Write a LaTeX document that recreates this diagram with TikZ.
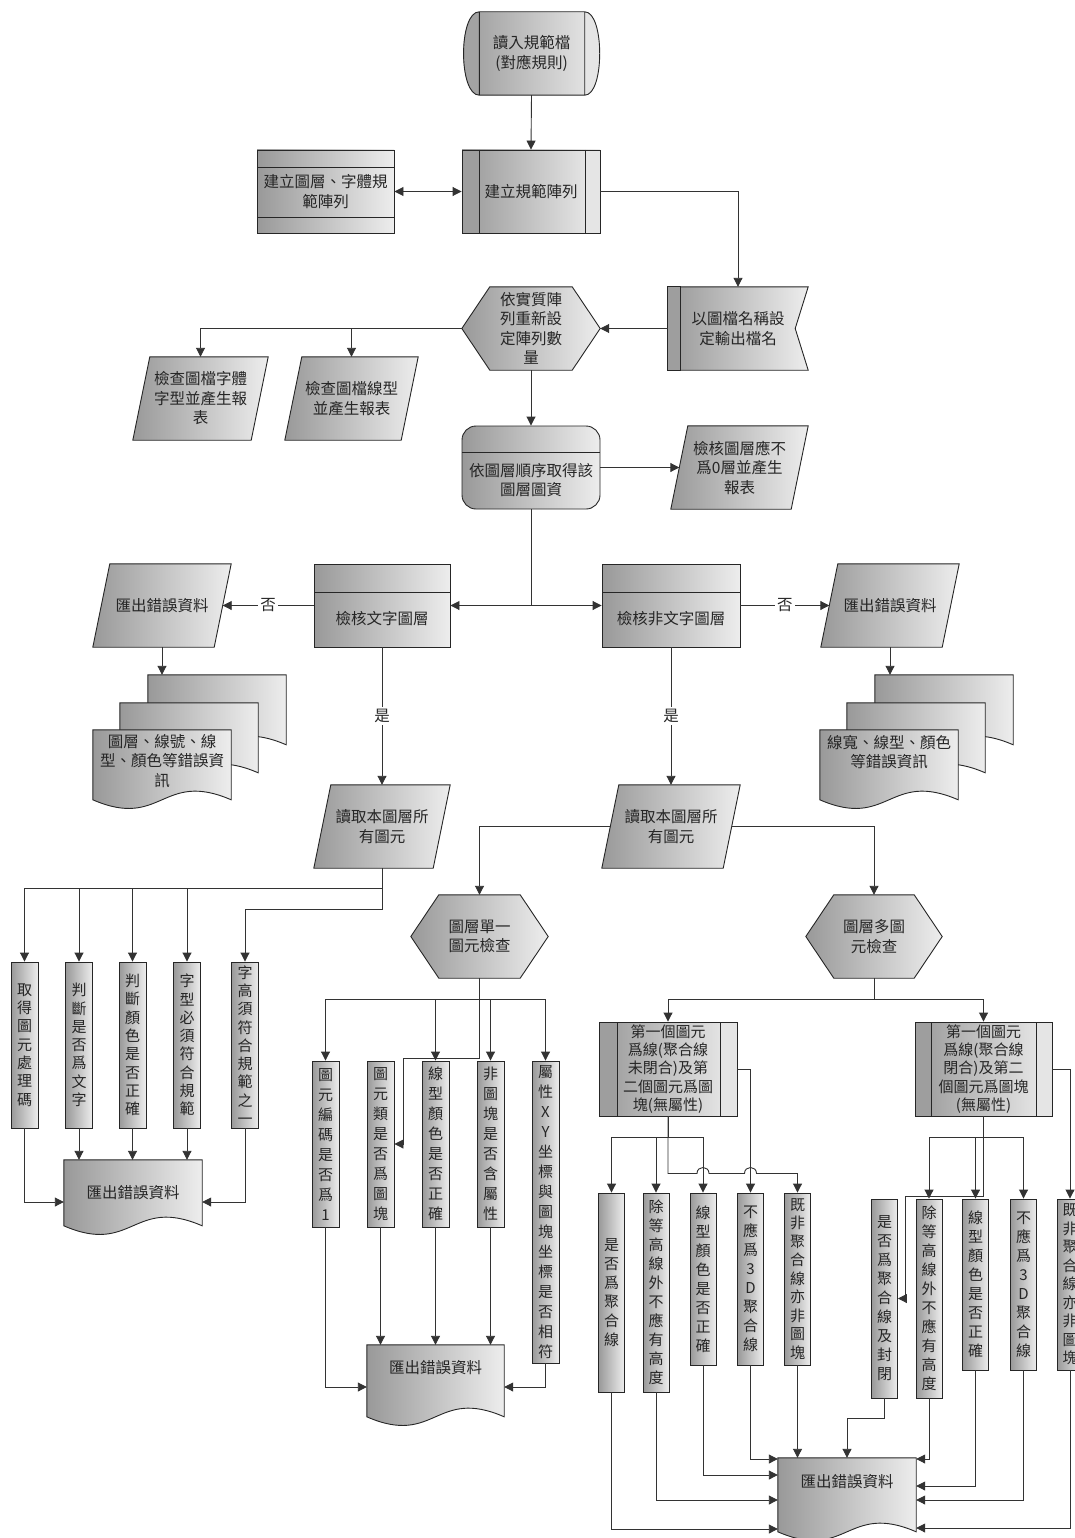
\documentclass[tikz,border=0pt]{standalone}
\usepackage{fontspec}
\newfontfamily\cjk{Noto Sans CJK TC}
\usetikzlibrary{arrows.meta,backgrounds,calc}
\pgfdeclarelayer{paper}
\pgfsetlayers{paper,background,main}

\tikzset{
  txt/.style={font=\cjk\fontsize{15.5}{19.5}\selectfont, text=black!85, align=center, inner sep=0pt},
  sz/.style 2 args={minimum width=#1pt, minimum height=#2pt},
  shd/.style={left color=black!40, right color=black!7},
  outl/.style={draw=black!85, line width=0.9pt},
  hold/.style={txt, rectangle},
  boxn/.style={txt, rectangle, shd, outl},
  vb/.style={boxn, minimum width=26pt, font=\cjk\fontsize{15}{#1}\selectfont},
  predef/.style 2 args={boxn, path picture={
    \fill[black!38] (path picture bounding box.north west) rectangle ([xshift=#1pt]path picture bounding box.south west);
    \fill[black!10] ([xshift=-#2pt]path picture bounding box.north east) rectangle (path picture bounding box.south east);
    \draw[black!85,line width=0.9pt] ([xshift=#1pt]path picture bounding box.north west) -- ([xshift=#1pt]path picture bounding box.south west)
      ([xshift=-#2pt]path picture bounding box.north east) -- ([xshift=-#2pt]path picture bounding box.south east);}},
  hla/.style={path picture={\draw[black!85,line width=0.9pt] ([yshift=-#1pt]path picture bounding box.north west) -- ([yshift=-#1pt]path picture bounding box.north east);}},
  hlb/.style 2 args={path picture={\draw[black!85,line width=0.9pt] ([yshift=-#1pt]path picture bounding box.north west) -- ([yshift=-#1pt]path picture bounding box.north east)
      ([yshift=#2pt]path picture bounding box.south west) -- ([yshift=#2pt]path picture bounding box.south east);}},
  con/.style={draw=black!80, line width=0.9pt},
  arr/.style={con, -{Triangle[length=9pt,width=9pt]}},
  lbl/.style={txt, fill=white, inner sep=2pt},
}

% flowchart symbol outlines drawn around the named nodes
\newcommand\hexshape[1]{\path[shd,outl] ([xshift=28pt]#1.north west) -- ([xshift=-28pt]#1.north east) -- (#1.east) -- ([xshift=-28pt]#1.south east) -- ([xshift=28pt]#1.south west) -- (#1.west) -- cycle;}
\newcommand\parashape[1]{\path[shd,outl] ([xshift=17pt]#1.north west) -- (#1.north east) -- ([xshift=-17pt]#1.south east) -- (#1.south west) -- cycle;}
\newcommand\docshape[4]{\path[shd,outl] ($(#1.north west)+(#3,#4)$) -- ($(#1.north east)+(#3,#4)$) -- ($(#1.north east)+(#3,#4+#2)$)
  .. controls ($(#1.north)+(#3,#4+#2-30)$) and ($(#1.north)+(#3,#4+#2+30)$) .. ($(#1.north west)+(#3,#4+#2)$) -- cycle;}

\begin{document}
\begin{tikzpicture}[x=1pt,y=-1pt]
\useasboundingbox (0,0) rectangle (1074,1538);
\begin{pgfonlayer}{paper}
  \fill[white] (0,0) rectangle (1074,1538);
\end{pgfonlayer}

% ---------- upper column ----------
\node[hold, sz={138}{83}] (term) at (531.5,53.5) {讀入規範檔\\(對應規則)};
\node[predef={17}{15}, sz={138}{83}] (build) at (531,191.5) {建立規範陣列};
\node[boxn, hlb={17}{16}, sz={137}{83}] (layers) at (325.5,191.5) {建立圖層、字體規\\範陣列};
\node[hold, sz={138}{83}] (recount) at (531,328.5) {依實質陣\\列重新設\\定陣列數\\量};
\node[hold, sz={140}{83}] (outname) at (738,328.5) {以圖檔名稱設\\定輸出檔名};
\node[hold, sz={135}{83}] (fontrep) at (200.5,398.5) {檢查圖檔字體\\字型並產生報\\表};
\node[hold, sz={133}{83}] (linerep) at (351.5,398.5) {檢查圖檔線型\\並產生報表};
\node[boxn, rounded corners=14pt, hla=26, sz={138}{83},
      label={[txt,yshift=-12.5pt]center:{依圖層順序取得該\\圖層圖資}}] (bylayer) at (531,467.5) {};
\node[hold, sz={137}{83}] (zerolayer) at (739.5,467.5) {檢核圖層應不\\爲0層並產生\\報表};

% ---------- layer checks ----------
\node[boxn, hla=28, sz={136}{83}, label={[txt,yshift=-13.5pt]center:檢核文字圖層}] (chkT) at (382,605.5) {};
\node[boxn, hla=28, sz={138}{83}, label={[txt,yshift=-13.5pt]center:檢核非文字圖層}] (chkN) at (671,605.5) {};
\node[hold, sz={138}{83}] (errL) at (162,605.5) {匯出錯誤資料};
\node[hold, sz={138}{83}] (errR) at (890,605.5) {匯出錯誤資料};
\node[hold, sz={138}{62}] (repL) at (162,761) {圖層、線號、線\\型、顏色等錯誤資\\訊};
\node[hold, sz={138}{44}] (repR) at (889,752) {線寬、線型、顏色\\等錯誤資訊};
\node[hold, sz={136}{83}] (readL) at (382,826.5) {讀取本圖層所\\有圖元};
\node[hold, sz={138}{83}] (readR) at (671,826.5) {讀取本圖層所\\有圖元};
\node[hold, sz={137}{83}] (single) at (479.5,936.5) {圖層單一\\圖元檢查};
\node[hold, sz={136}{83}] (multi) at (874,936.5) {圖層多圖\\元檢查};

% ---------- text layer checks ----------
\node[vb=18.3, sz={27}{166}] (b1) at (24.5,1045) {取\\得\\圖\\元\\處\\理\\碼};
\node[vb=18.3, sz={27}{166}] (b2) at (79,1045) {判\\斷\\是\\否\\爲\\文\\字};
\node[vb=18.3, sz={27}{166}] (b3) at (132.5,1045) {判\\斷\\顏\\色\\是\\否\\正\\確};
\node[vb=18.3, sz={27}{166}] (b4) at (187,1045) {字\\型\\必\\須\\符\\合\\規\\範};
\node[vb=18.3, sz={27}{166}] (b5) at (245,1045) {字\\高\\須\\符\\合\\規\\範\\之\\一};
\node[hold, sz={138}{66}] (docL) at (133,1193) {匯出錯誤資料};

% ---------- single element checks ----------
\node[vb=20, sz={27}{166}] (m1) at (325.5,1144) {圖\\元\\編\\碼\\是\\否\\爲\\1};
\node[vb=20, sz={27}{166}] (m2) at (380.5,1144) {圖\\元\\類\\是\\否\\爲\\圖\\塊};
\node[vb=20, sz={27}{166}] (m3) at (435.5,1144) {線\\型\\顏\\色\\是\\否\\正\\確};
\node[vb=20, sz={27}{166}] (m4) at (490.5,1144) {非\\圖\\塊\\是\\否\\含\\屬\\性};
\node[vb=20, sz={27}{302}] (m5) at (545.5,1212) {屬\\性\\X\\Y\\坐\\標\\與\\圖\\塊\\坐\\標\\是\\否\\相\\符};
\node[hold, sz={137}{46}] (docM) at (435.5,1368) {匯出錯誤資料};

% ---------- multi element checks ----------
\node[predef={18}{17}, sz={138}{94}, font=\cjk\fontsize{15}{18.2}\selectfont] (P1) at (668,1069)
  {第一個圖元\\爲線(聚合線\\未閉合)及第\\二個圖元爲圖\\塊(無屬性)};
\node[predef={16}{16}, sz={137}{94}, font=\cjk\fontsize{15}{18.2}\selectfont] (P2) at (983.5,1069)
  {第一個圖元\\爲線(聚合線\\閉合)及第二\\個圖元爲圖塊\\(無屬性)};
\node[vb=19, sz={26}{199}] (r1) at (611.5,1292.5) {是\\否\\爲\\聚\\合\\線};
\node[vb=19, sz={26}{199}] (r2) at (656,1292.5) {除\\等\\高\\線\\外\\不\\應\\有\\高\\度};
\node[vb=19, sz={26}{172}] (r3) at (703,1279) {線\\型\\顏\\色\\是\\否\\正\\確};
\node[vb=19, sz={26}{172}] (r4) at (750.5,1279) {不\\應\\爲\\3\\D\\聚\\合\\線};
\node[vb=18.5, sz={26}{172}] (r5) at (797.5,1279) {既\\非\\聚\\合\\線\\亦\\非\\圖\\塊};
\node[vb=19, sz={26}{199}] (s1) at (884.5,1298.5) {是\\否\\爲\\聚\\合\\線\\及\\封\\閉};
\node[vb=19, sz={26}{199}] (s2) at (929,1298.5) {除\\等\\高\\線\\外\\不\\應\\有\\高\\度};
\node[vb=19, sz={26}{171}] (s3) at (975.5,1284.5) {線\\型\\顏\\色\\是\\否\\正\\確};
\node[vb=19, sz={26}{171}] (s4) at (1023.5,1284.5) {不\\應\\爲\\3\\D\\聚\\合\\線};
\node[vb=18.5, sz={26}{171}] (s5) at (1070,1284.5) {既\\非\\聚\\合\\線\\亦\\非\\圖\\塊};
\node[hold, sz={138}{48}] (docB) at (847,1482) {匯出錯誤資料};

% ---------- symbol outlines ----------
\begin{pgfonlayer}{background}
  \path[shd] ([xshift=17pt]term.north west) -- ([xshift=-16pt]term.north east)
    .. controls ([xshift=4pt]term.north east) and ([xshift=4pt]term.south east) .. ([xshift=-16pt]term.south east)
    -- ([xshift=17pt]term.south west)
    .. controls ([xshift=-4pt]term.south west) and ([xshift=-4pt]term.north west) .. ([xshift=17pt]term.north west) -- cycle;
  \fill[black!36] ([xshift=17pt]term.south west) .. controls ([xshift=-4pt]term.south west) and ([xshift=-4pt]term.north west) .. ([xshift=17pt]term.north west) -- cycle;
  \fill[black!10] ([xshift=-16pt]term.north east) .. controls ([xshift=4pt]term.north east) and ([xshift=4pt]term.south east) .. ([xshift=-16pt]term.south east) -- cycle;
  \draw[outl] ([xshift=17pt]term.north west) -- ([xshift=-16pt]term.north east)
    .. controls ([xshift=4pt]term.north east) and ([xshift=4pt]term.south east) .. ([xshift=-16pt]term.south east)
    -- ([xshift=17pt]term.south west)
    .. controls ([xshift=-4pt]term.south west) and ([xshift=-4pt]term.north west) .. ([xshift=17pt]term.north west) -- cycle
    ([xshift=17pt]term.north west) -- ([xshift=17pt]term.south west)
    ([xshift=-16pt]term.north east) -- ([xshift=-16pt]term.south east);

  \hexshape{recount}
  \hexshape{single}
  \hexshape{multi}

  \path[shd,outl] (outname.north west) -- (outname.north east) -- ([xshift=-13pt]outname.east) -- (outname.south east) -- (outname.south west) -- cycle;
  \path[fill=black!38,outl] (outname.north west) rectangle ([xshift=13pt]outname.south west);

  \parashape{fontrep}
  \parashape{linerep}
  \parashape{zerolayer}
  \parashape{errL}
  \parashape{errR}
  \parashape{readL}
  \parashape{readR}

  \docshape{repL}{70}{55}{-55}
  \docshape{repL}{70}{27}{-27}
  \docshape{repL}{70}{0}{0}
  \docshape{repR}{70}{55}{-55}
  \docshape{repR}{70}{27}{-27}
  \docshape{repR}{70}{0}{0}
  \docshape{docL}{66}{0}{0}
  \docshape{docM}{72}{0}{0}
  \docshape{docB}{74}{0}{0}
\end{pgfonlayer}

% ---------- connectors ----------
\draw[arr] (term.south) -- (build.north);
\draw[con, {Triangle[length=9pt,width=9pt]}-{Triangle[length=9pt,width=9pt]}] (layers.east) -- (build.west);
\draw[arr] (build.east) -| (outname.north);
\draw[arr] (outname.west) -- (recount.east);
\draw[arr] (recount.west) -| (fontrep.north);
\draw[arr] (recount.west) -| (linerep.north);
\draw[arr] (recount.south) -- (bylayer.north);
\draw[arr] (bylayer.east) -- ([xshift=8.5pt]zerolayer.west);
\draw[arr] (bylayer.south) |- (chkT.east);
\draw[arr] (bylayer.south) |- (chkN.west);
\draw[arr] (chkT.west) -- node[lbl]{否} ([xshift=-8.5pt]errL.east);
\draw[arr] (chkN.east) -- node[lbl]{否} ([xshift=8.5pt]errR.west);
\coordinate (repLtop) at ([yshift=55pt]repL.north);
\coordinate (repRtop) at ([yshift=55pt]repR.north);
\draw[arr] (errL.south) -- (errL.south |- repLtop);
\draw[arr] (errR.south) -- (errR.south |- repRtop);
\draw[arr] (chkT.south) -- node[lbl]{是} (readL.north);
\draw[arr] (chkN.south) -- node[lbl]{是} (readR.north);

% text layer branch
\foreach \nm in {b1,b2,b3,b4} \draw[arr] (readL.south) -- ++(0,20) -| (\nm.north);
\draw[arr] (readL.south) -- ++(0,41) -| (b5.north);
\draw[arr] (b1.south) |- ([yshift=-9pt]docL.west);
\foreach \nm in {b2,b3,b4} \draw[arr] (\nm.south) -- (\nm.south |- docL.north);
\draw[arr] (b5.south) |- ([yshift=-9pt]docL.east);

% non-text layer branch
\draw[arr] ([xshift=8.5pt]readR.west) -| (single.north);
\draw[arr] ([xshift=-8.5pt]readR.east) -| (multi.north);
\foreach \nm in {m1,m3,m4,m5} \draw[arr] (single.south) -- ++(0,21) -| (\nm.north);
\draw[arr] (single.south) -- ++(0,80) -- ++(-76.5,0) |- (m2.east);
\foreach \nm in {m2,m3,m4} \draw[arr] (\nm.south) -- (\nm.south |- docM.north);
\draw[arr] (m1.south) |- ([yshift=-19pt]docM.west);
\draw[arr] (m5.south) |- ([yshift=-19pt]docM.east);

\draw[arr] (multi.south) -- ++(0,21) -| (P1.north);
\draw[arr] (multi.south) -- ++(0,21) -| (P2.north);
\foreach \nm in {r1,r2,r3} \draw[arr] (P1.south) -- ++(0,21) -| (\nm.north);
\draw[arr] (P1.east) -| (r4.north);
\draw[arr] (P1.south) -- ++(0,57) -- ++(29,0) .. controls +(0,-8) and +(0,-8) .. ++(12,0)
  -- ++(35.5,0) .. controls +(0,-8) and +(0,-8) .. ++(12,0) -| (r5.north);
\foreach \nm in {s2,s3,s4} \draw[arr] (P2.south) -- ++(0,21) -| (\nm.north);
\draw[arr] (P2.east) -| (s5.north);
\draw[arr] (P2.south) -- ++(0,80) -- ++(-78,0) |- (s1.east);

\draw[arr] (r1.south) |- ([yshift=-47pt]docB.west);
\draw[arr] (r2.south) |- ([yshift=-18pt]docB.west);
\draw[arr] (r3.south) |- ([yshift=7pt]docB.west);
\draw[arr] (r4.south) |- ([yshift=23pt]docB.west);
\draw[arr] (r5.south) -- (r5.south |- docB.north);
\draw[arr] (s1.south) -- ++(0,20) -| (docB.north);
\draw[arr] (s2.south) |- ([yshift=23pt]docB.east);
\draw[arr] (s3.south) |- ([yshift=-4pt]docB.east);
\draw[arr] (s4.south) |- ([yshift=-18pt]docB.east);
\draw[arr] (s5.south) |- ([yshift=-46pt]docB.east);
\end{tikzpicture}
\end{document}
